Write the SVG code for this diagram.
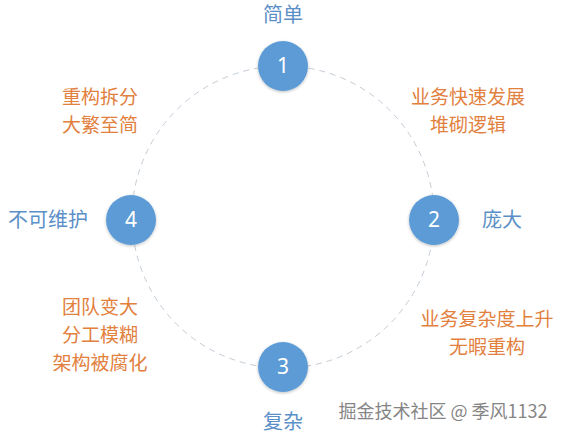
<svg xmlns="http://www.w3.org/2000/svg" width="567" height="438" viewBox="0 0 567 438">
<style>
.node{fill:#5b9bd5;filter:url(#sh)}
.num{font-family:"Noto Sans","Open Sans",sans-serif;font-size:21px;fill:#ffffff;text-anchor:middle}
.blue{font-family:"Noto Sans CJK SC",sans-serif;font-size:20px;fill:#5b8fc7;text-anchor:middle}
.orange{font-family:"Noto Sans CJK SC",sans-serif;font-size:19px;fill:#e2803e;text-anchor:middle}
.wm{font-family:"Noto Sans CJK SC",sans-serif;font-size:18px;fill:#858585;text-anchor:middle}
</style>
<defs>
<filter id="sh" x="-30%" y="-30%" width="160%" height="160%">
<feDropShadow dx="0" dy="1" stdDeviation="1.5" flood-color="#000" flood-opacity="0.25"/>
</filter>
</defs>
<rect width="567" height="438" fill="#ffffff"/>
<g id="connectors">
<circle cx="283" cy="217" r="151" fill="none" stroke="#c3ccd6" stroke-width="1" stroke-dasharray="6 5"/>
</g>
<g id="node1">
<circle class="node" cx="283" cy="66" r="25"/>
<text class="num" x="283" y="73">1</text>
<text class="blue" x="283" y="22">简单</text>
</g>
<g id="node2">
<circle class="node" cx="434" cy="220" r="25"/>
<text class="num" x="434" y="227">2</text>
<text class="blue" x="502" y="227">庞大</text>
</g>
<g id="node3">
<circle class="node" cx="283" cy="367" r="25"/>
<text class="num" x="283" y="374">3</text>
<text class="blue" x="283" y="429">复杂</text>
</g>
<g id="node4">
<circle class="node" cx="131" cy="220" r="25"/>
<text class="num" x="131" y="227">4</text>
<text class="blue" x="48" y="227">不可维护</text>
</g>
<g id="labels">
<text class="orange" x="468" y="104">业务快速发展</text>
<text class="orange" x="468" y="132">堆砌逻辑</text>
<text class="orange" x="487" y="326">业务复杂度上升</text>
<text class="orange" x="487" y="354">无暇重构</text>
<text class="orange" x="100" y="314">团队变大</text>
<text class="orange" x="100" y="342">分工模糊</text>
<text class="orange" x="100" y="370">架构被腐化</text>
<text class="orange" x="100" y="104">重构拆分</text>
<text class="orange" x="100" y="132">大繁至简</text>
</g>
<text class="wm" x="443" y="418">掘金技术社区 @ 季风1132</text>
</svg>
